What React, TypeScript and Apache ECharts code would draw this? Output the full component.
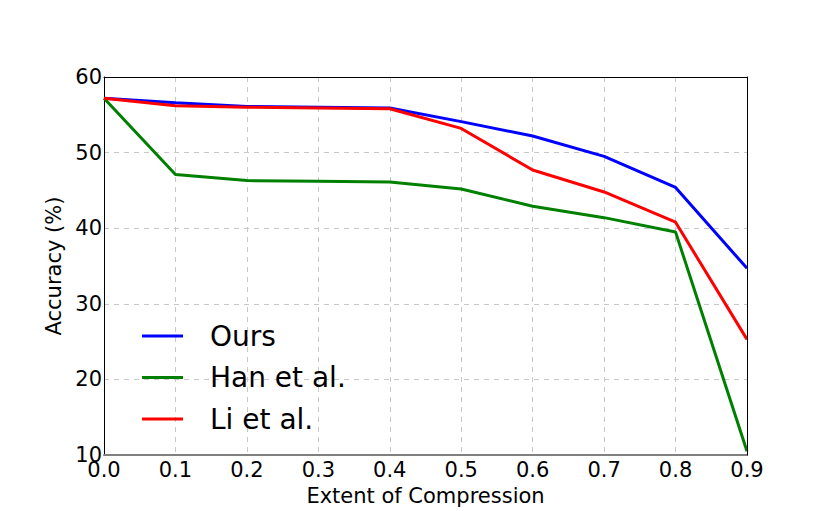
import React, { useEffect, useRef } from "react";
import * as echarts from "echarts";

const compression = [0.0, 0.1, 0.2, 0.3, 0.4, 0.5, 0.6, 0.7, 0.8, 0.9];
const ours = [57.2, 56.6, 56.1, 56.0, 55.9, 54.1, 52.2, 49.5, 45.4, 34.7];
const han = [57.2, 47.1, 46.3, 46.2, 46.1, 45.2, 42.9, 41.4, 39.5, 10.5];
const li = [57.2, 56.2, 56.0, 55.9, 55.8, 53.2, 47.7, 44.8, 40.8, 25.3];
const seriesNames = ["Ours", "Han et al.", "Li et al."];
const seriesColors = ["#0000ff", "#008000", "#ff0000"];

const FONT = "DejaVu Sans";

export default function App() {
  const ref = useRef<HTMLDivElement>(null);
  useEffect(() => {
    if (!ref.current) return;
    const chart = echarts.init(ref.current, undefined, { renderer: "svg" });
    const values = [ours, han, li];
    const split = {
      show: true,
      lineStyle: { color: "#c8c8c8", type: [5, 5], width: 1 },
    };
    chart.setOption({
      animation: false,
      backgroundColor: "#ffffff",
      textStyle: { fontFamily: FONT },
      grid: {
        left: 104,
        right: 83,
        top: 77,
        bottom: 52.5,
      },
      legend: {
        orient: "vertical",
        left: 137,
        top: 317,
        itemWidth: 41,
        itemHeight: 3,
        itemGap: 13.5,
        icon: "rect",
        data: seriesNames,
        textStyle: {
          fontFamily: FONT,
          fontSize: 28,
          lineHeight: 28,
          color: "#000000",
          padding: [0, 0, 0, 22],
        },
      },
      xAxis: [
        {
          type: "value",
          min: 0,
          max: 0.9,
          interval: 0.1,
          name: "Extent of Compression",
          nameLocation: "middle",
          nameGap: 27,
          nameTextStyle: { fontFamily: FONT, fontSize: 21, color: "#000000" },
          axisLine: { show: true, lineStyle: { color: "#808080", width: 2 } },
          axisTick: { show: false },
          axisLabel: {
            fontFamily: FONT,
            fontSize: 21,
            color: "#000000",
            margin: 4,
            formatter: (v: number) => v.toFixed(1),
          },
          splitLine: split,
        },
        {
          type: "value",
          position: "top",
          min: 0,
          max: 0.9,
          interval: 0.1,
          axisLine: { show: true, onZero: false, lineStyle: { color: "#000000", width: 1 } },
          axisTick: { show: false },
          axisLabel: { show: false },
          splitLine: { show: false },
          z: 10,
        },
      ],
      yAxis: [
        {
          type: "value",
          min: 10,
          max: 60,
          interval: 10,
          name: "Accuracy (%)",
          nameLocation: "middle",
          nameGap: 31,
          nameTextStyle: { fontFamily: FONT, fontSize: 21, color: "#000000" },
          axisLine: { show: true, lineStyle: { color: "#000000", width: 1 } },
          axisTick: { show: false },
          axisLabel: {
            fontFamily: FONT,
            fontSize: 21,
            color: "#000000",
            margin: 2,
          },
          splitLine: split,
        },
        {
          type: "value",
          position: "right",
          min: 10,
          max: 60,
          interval: 10,
          axisLine: { show: true, onZero: false, lineStyle: { color: "#000000", width: 1 } },
          axisTick: { show: false },
          axisLabel: { show: false },
          splitLine: { show: false },
          z: 10,
        },
      ],
      series: seriesNames.map((name, i) => ({
        name,
        type: "line",
        xAxisIndex: 0,
        yAxisIndex: 0,
        data: compression.map((x, j) => [x, values[i][j]]),
        showSymbol: false,
        symbol: "none",
        color: seriesColors[i],
        lineStyle: { color: seriesColors[i], width: 3 },
        z: 3 + (i === 2 ? 1 : 0),
      })),
    });
    return () => chart.dispose();
  }, []);
  return (
    <div
      ref={ref}
      style={{ position: "absolute", left: 0, top: 0, width: 830, height: 511 }}
    />
  );
}
